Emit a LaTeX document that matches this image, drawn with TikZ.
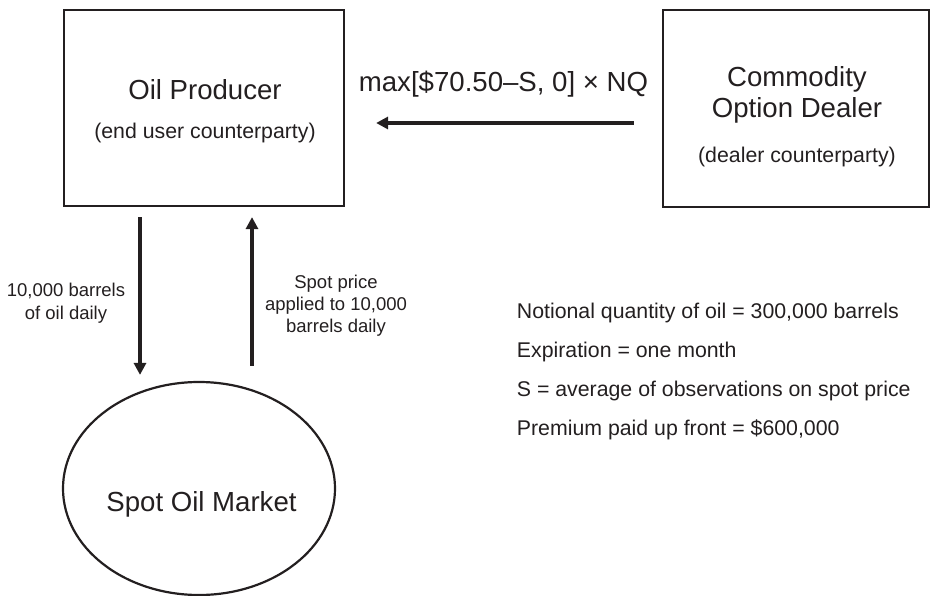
\documentclass[tikz,border=0pt]{standalone}
\usepackage{fontspec}
\setmainfont{Liberation Sans}
\usetikzlibrary{arrows.meta,shapes.geometric}
\definecolor{ink}{HTML}{231F20}
\tikzset{
  boxnode/.style={draw=ink, line width=2.2pt, minimum width=#1, inner sep=0pt},
  titletext/.style={anchor=base, text=ink, inner sep=0pt, font=\fontsize{27.6}{31}\selectfont},
  subtext/.style={anchor=base, text=ink, inner sep=0pt, font=\fontsize{21.3}{25}\selectfont},
  notetext/.style={anchor=base west, text=ink, inner sep=0pt, font=\fontsize{21.3}{25}\selectfont},
  smalltext/.style={anchor=base, text=ink, inner sep=0pt, font=\fontsize{18.5}{22.5}\selectfont},
  flow/.style={draw=ink, line width=3.8pt, -{Triangle[length=12pt,width=12pt]}},
}
\begin{document}
\begin{tikzpicture}[x=1pt,y=-1pt]
\useasboundingbox (0,0) rectangle (932,596);
% boxes
\node[boxnode=280pt, minimum height=196pt] (prod) at (204,108) {};
\node[boxnode=266pt, minimum height=197pt] (dealer) at (796,108.5) {};
\node[draw=ink, line width=2.2pt, ellipse, minimum width=272pt, minimum height=213pt, inner sep=0pt] (mkt) at (199,488.5) {};
% box texts
\node[titletext] (prodt) at (205,100) {Oil Producer};
\node[subtext] (prods) at (205,138.5) {(end user counterparty)};
\node[titletext] (dealt1) at (797,87) {Commodity};
\node[titletext] (dealt2) at (797,118) {Option Dealer};
\node[subtext] (deals) at (797,162.5) {(dealer counterparty)};
\node[titletext] (mktt) at (201.5,511) {Spot Oil Market};
% connector labels
\node[titletext] (payoff) at (503.5,92) {max[\$70.50–S, 0] × NQ};
\node[smalltext] (oil1) at (66,296.5) {10,000 barrels};
\node[smalltext] (oil2) at (66,319) {of oil daily};
\node[smalltext] (sp1) at (336,288) {Spot price};
\node[smalltext] (sp2) at (336,310) {applied to 10,000};
\node[smalltext] (sp3) at (336,332) {barrels daily};
% notes
\node[notetext] (n1) at (516.7,318) {Notional quantity of oil = 300,000 barrels};
\node[notetext] (n2) at (516.7,357) {Expiration = one month};
\node[notetext] (n3) at (516.7,396) {S = average of observations on spot price};
\node[notetext] (n4) at (516.7,435) {Premium paid up front = \$600,000};
% connectors
\draw[flow] ([xshift=-28pt,yshift=-14.5pt]dealer.west) -- ([xshift=31pt,yshift=-15pt]prod.east);
\draw[flow] ([xshift=-64pt,yshift=-10pt]prod.south) -- ([xshift=-59pt,yshift=6pt]mkt.north);
\draw[flow] ([xshift=53pt,yshift=15pt]mkt.north) -- ([xshift=48pt,yshift=-10pt]prod.south);
\end{tikzpicture}
\end{document}
